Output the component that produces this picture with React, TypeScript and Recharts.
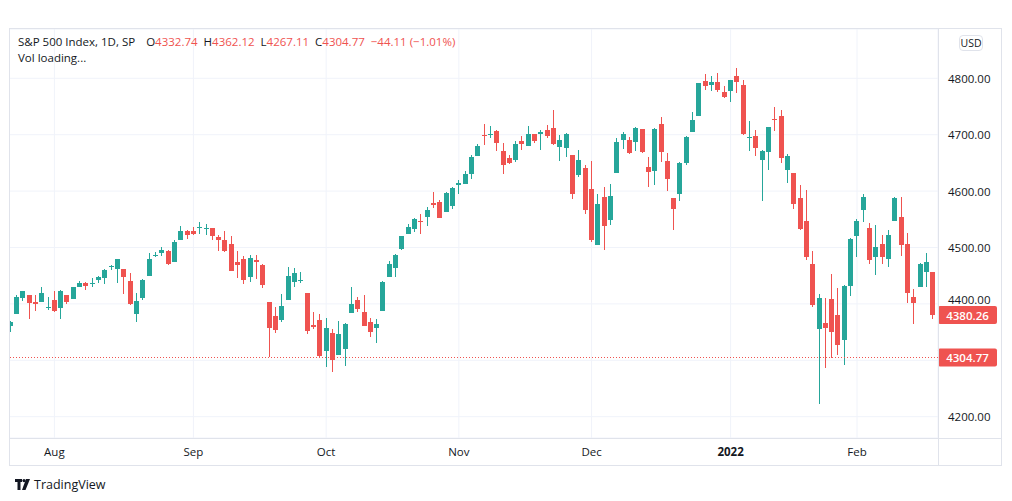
import { Bar, CartesianGrid, ComposedChart, ReferenceLine, XAxis, YAxis } from "recharts";

const UP = "#26a69a";
const DOWN = "#ef5350";
const GRID = "#f0f3fa";
const BORDER = "#e0e3eb";
const TEXT = "#131722";
const FONT = "'Open Sans', 'Noto Sans', sans-serif";

// daily bars, Jul 22 2021 .. Feb 17 2022
const dates = [
  "2021-07-22", "2021-07-23", "2021-07-26", "2021-07-27", "2021-07-28", "2021-07-29", "2021-07-30",
  "2021-08-02", "2021-08-03", "2021-08-04", "2021-08-05", "2021-08-06", "2021-08-09", "2021-08-10", "2021-08-11",
  "2021-08-12", "2021-08-13", "2021-08-16", "2021-08-17", "2021-08-18", "2021-08-19", "2021-08-20", "2021-08-23",
  "2021-08-24", "2021-08-25", "2021-08-26", "2021-08-27", "2021-08-30", "2021-08-31",
  "2021-09-01", "2021-09-02", "2021-09-03", "2021-09-07", "2021-09-08", "2021-09-09", "2021-09-10", "2021-09-13",
  "2021-09-14", "2021-09-15", "2021-09-16", "2021-09-17", "2021-09-20", "2021-09-21", "2021-09-22", "2021-09-23",
  "2021-09-24", "2021-09-27", "2021-09-28", "2021-09-29", "2021-09-30",
  "2021-10-01", "2021-10-04", "2021-10-05", "2021-10-06", "2021-10-07", "2021-10-08", "2021-10-11", "2021-10-12",
  "2021-10-13", "2021-10-14", "2021-10-15", "2021-10-18", "2021-10-19", "2021-10-20", "2021-10-21", "2021-10-22",
  "2021-10-25", "2021-10-26", "2021-10-27", "2021-10-28", "2021-10-29",
  "2021-11-01", "2021-11-02", "2021-11-03", "2021-11-04", "2021-11-05", "2021-11-08", "2021-11-09", "2021-11-10",
  "2021-11-11", "2021-11-12", "2021-11-15", "2021-11-16", "2021-11-17", "2021-11-18", "2021-11-19", "2021-11-22",
  "2021-11-23", "2021-11-24", "2021-11-26", "2021-11-29", "2021-11-30",
  "2021-12-01", "2021-12-02", "2021-12-03", "2021-12-06", "2021-12-07", "2021-12-08", "2021-12-09", "2021-12-10",
  "2021-12-13", "2021-12-14", "2021-12-15", "2021-12-16", "2021-12-17", "2021-12-20", "2021-12-21", "2021-12-22",
  "2021-12-23", "2021-12-27", "2021-12-28", "2021-12-29", "2021-12-30", "2021-12-31",
  "2022-01-03", "2022-01-04", "2022-01-05", "2022-01-06", "2022-01-07", "2022-01-10", "2022-01-11", "2022-01-12",
  "2022-01-13", "2022-01-14", "2022-01-18", "2022-01-19", "2022-01-20", "2022-01-21", "2022-01-24", "2022-01-25",
  "2022-01-26", "2022-01-27", "2022-01-28", "2022-01-31",
  "2022-02-01", "2022-02-02", "2022-02-03", "2022-02-04", "2022-02-07", "2022-02-08", "2022-02-09", "2022-02-10",
  "2022-02-11", "2022-02-14", "2022-02-15", "2022-02-16", "2022-02-17",
];

const opens = [
  4361.27, 4381.2, 4409.58, 4416.38, 4402.95, 4403.59, 4395.12,
  4406.86, 4392.74, 4415.95, 4408.86, 4429.07, 4437.77, 4435.79, 4442.18, 4446.08, 4464.84, 4461.65, 4462.12,
  4440.94, 4382.44, 4410.56, 4450.29, 4484.4, 4490.45, 4493.75, 4474.1, 4513.76, 4529.75,
  4528.8, 4534.48, 4532.42, 4535.38, 4518.09, 4513.02, 4506.92, 4474.81, 4479.33, 4447.49, 4477.09, 4469.74,
  4402.95, 4379.0, 4372.0, 4406.75, 4438.04, 4442.12, 4419.54, 4362.41, 4370.67,
  4317.16, 4348.84, 4309.87, 4319.57, 4383.73, 4406.51, 4385.44, 4368.31, 4358.01, 4386.75, 4447.69, 4463.72,
  4497.34, 4524.42, 4532.24, 4546.12, 4553.69, 4578.69, 4580.22, 4562.84, 4572.87,
  4610.62, 4613.34, 4630.65, 4662.93, 4699.26, 4701.48, 4707.25, 4670.26, 4659.39, 4655.24, 4689.3, 4679.42,
  4701.5, 4700.72, 4708.44, 4712.0, 4678.48, 4675.78, 4664.63, 4628.75, 4640.25,
  4602.82, 4504.73, 4589.49, 4548.37, 4631.97, 4690.86, 4691.0, 4687.64, 4710.3, 4642.99, 4636.46, 4719.13,
  4652.5, 4587.9, 4594.96, 4650.36, 4703.96, 4733.99, 4795.49, 4788.64, 4794.23, 4775.21,
  4778.14, 4804.51, 4787.99, 4693.39, 4697.66, 4655.34, 4669.14, 4728.59, 4733.56, 4637.99, 4632.24, 4588.03,
  4547.35, 4471.38, 4356.32, 4366.64, 4408.43, 4380.58, 4336.19, 4431.79,
  4519.57, 4566.39, 4535.41, 4482.79, 4505.75, 4480.02, 4547.0, 4553.24, 4506.27, 4412.61, 4429.28, 4455.75, 4456.06,
];

const highs = [
  4369.87, 4415.18, 4422.73, 4416.38, 4415.47, 4429.97, 4412.25,
  4422.18, 4423.79, 4416.17, 4429.76, 4440.82, 4439.39, 4445.21, 4449.44, 4461.77, 4468.37, 4480.26, 4462.12,
  4454.32, 4418.61, 4444.35, 4489.88, 4492.81, 4501.71, 4495.9, 4513.33, 4537.36, 4531.39,
  4537.11, 4545.85, 4541.45, 4535.38, 4521.79, 4529.9, 4520.47, 4492.99, 4485.68, 4486.87, 4485.87, 4471.52,
  4402.95, 4394.87, 4416.75, 4465.4, 4463.12, 4457.3, 4419.54, 4385.57, 4382.55,
  4375.19, 4355.51, 4369.23, 4365.57, 4429.97, 4412.02, 4415.88, 4374.89, 4372.87, 4439.73, 4475.82, 4488.75,
  4520.4, 4540.87, 4551.44, 4559.67, 4572.62, 4598.53, 4584.57, 4597.55, 4608.08,
  4620.34, 4635.15, 4663.46, 4683.0, 4718.5, 4714.92, 4708.53, 4684.85, 4664.55, 4688.47, 4697.42, 4714.95,
  4701.5, 4708.8, 4717.75, 4743.83, 4699.39, 4702.87, 4664.63, 4672.95, 4646.02,
  4652.94, 4595.46, 4608.03, 4612.6, 4694.04, 4705.06, 4695.26, 4713.57, 4710.3, 4660.47, 4712.6, 4731.99,
  4666.7, 4587.9, 4651.14, 4697.67, 4740.74, 4791.49, 4807.02, 4804.06, 4808.93, 4786.83,
  4796.64, 4818.62, 4797.7, 4725.01, 4707.95, 4673.02, 4714.13, 4748.83, 4744.13, 4665.13, 4632.24, 4611.55,
  4602.11, 4494.52, 4417.35, 4411.01, 4453.23, 4428.74, 4432.72, 4516.89,
  4550.49, 4595.31, 4542.88, 4539.66, 4521.86, 4531.32, 4590.03, 4588.92, 4526.33, 4426.22, 4472.77, 4489.55, 4456.06,
];

const lows = [
  4350.06, 4381.2, 4405.45, 4372.51, 4387.01, 4403.59, 4389.65,
  4384.81, 4373.0, 4400.23, 4408.86, 4429.07, 4424.74, 4430.03, 4436.42, 4435.96, 4460.82, 4437.66, 4417.83,
  4397.59, 4367.73, 4406.8, 4450.29, 4482.28, 4485.66, 4468.99, 4474.1, 4513.76, 4515.8,
  4522.02, 4524.66, 4521.94, 4513.0, 4493.95, 4492.07, 4457.66, 4445.7, 4435.46, 4438.37, 4443.8, 4427.76,
  4305.91, 4347.96, 4367.43, 4406.75, 4430.27, 4436.19, 4346.33, 4355.08, 4306.24,
  4288.52, 4278.94, 4309.87, 4290.49, 4383.73, 4386.22, 4360.59, 4342.09, 4329.92, 4386.75, 4447.69, 4447.47,
  4496.41, 4524.4, 4526.89, 4524.0, 4537.36, 4569.17, 4551.66, 4562.84, 4567.59,
  4595.06, 4613.34, 4621.19, 4662.59, 4681.32, 4694.39, 4670.87, 4630.86, 4648.31, 4650.77, 4672.86, 4679.42,
  4684.41, 4672.78, 4694.22, 4682.17, 4652.66, 4659.89, 4585.43, 4625.26, 4560.0,
  4510.27, 4504.73, 4495.12, 4540.51, 4631.97, 4674.52, 4665.98, 4670.24, 4667.6, 4606.52, 4611.22, 4651.89,
  4600.22, 4531.1, 4583.16, 4645.53, 4703.96, 4733.99, 4780.04, 4778.08, 4775.33, 4765.75,
  4758.17, 4774.27, 4699.44, 4671.26, 4662.74, 4582.24, 4638.27, 4706.71, 4650.29, 4614.75, 4568.7, 4530.2,
  4477.95, 4395.34, 4222.62, 4287.11, 4304.8, 4309.5, 4292.46, 4414.02,
  4483.53, 4544.32, 4470.39, 4451.5, 4471.47, 4465.4, 4547.0, 4484.31, 4401.41, 4364.84, 4429.28, 4429.68, 4373.81,
];

const closes = [
  4367.48, 4411.79, 4422.3, 4401.46, 4400.64, 4419.15, 4395.26,
  4387.16, 4423.15, 4402.66, 4429.1, 4436.52, 4432.35, 4436.75, 4447.7, 4460.83, 4468.0, 4479.71, 4448.08,
  4400.27, 4405.8, 4441.67, 4479.53, 4486.23, 4496.19, 4470.0, 4509.37, 4528.79, 4522.68,
  4524.09, 4536.95, 4535.43, 4520.03, 4514.07, 4493.28, 4458.58, 4468.73, 4443.05, 4480.7, 4473.75, 4432.99,
  4357.73, 4354.19, 4395.64, 4448.98, 4455.48, 4443.11, 4352.63, 4359.46, 4307.54,
  4357.04, 4300.46, 4345.72, 4363.55, 4399.76, 4391.34, 4361.19, 4350.65, 4363.8, 4438.26, 4471.37, 4486.46,
  4519.63, 4536.19, 4549.78, 4544.9, 4566.48, 4574.79, 4551.68, 4596.42, 4605.38,
  4613.67, 4630.65, 4660.57, 4680.06, 4697.53, 4701.7, 4685.25, 4646.71, 4649.27, 4682.85, 4682.8, 4700.9,
  4688.67, 4704.54, 4697.96, 4682.94, 4690.7, 4701.46, 4594.62, 4655.27, 4567.0,
  4513.04, 4577.1, 4538.43, 4591.67, 4686.75, 4701.21, 4667.45, 4712.02, 4668.97, 4634.09, 4709.85, 4668.67,
  4620.64, 4568.02, 4649.23, 4696.56, 4725.79, 4791.19, 4786.35, 4793.06, 4778.73, 4766.18,
  4796.56, 4793.54, 4700.58, 4696.05, 4677.03, 4670.29, 4713.07, 4726.35, 4659.03, 4662.85, 4577.11, 4532.76,
  4482.73, 4397.94, 4410.13, 4356.45, 4349.93, 4326.51, 4431.85, 4515.55,
  4546.54, 4589.38, 4477.44, 4500.53, 4483.87, 4521.54, 4587.18, 4504.08, 4418.64, 4401.67, 4471.07, 4475.01, 4380.26,
];

const monthTicks = ["2021-08-02", "2021-09-01", "2021-10-01", "2021-11-01", "2021-12-01", "2022-01-03", "2022-02-01"];
const monthLabels = ["Aug", "Sep", "Oct", "Nov", "Dec", "2022", "Feb"];
const priceTicks = [4200, 4300, 4400, 4500, 4600, 4700, 4800];
const hiddenPriceLabels = [4300]; // covered by the last-price tag
const priceDomain = [4162.2, 4887.4];

const LAST_PRICE = 4304.77;
const MARK_PRICE = 4380.26;

const data = dates.map((date, i) => ({
  date,
  open: opens[i],
  high: highs[i],
  low: lows[i],
  close: closes[i],
  range: [lows[i], highs[i]],
}));

function Candle(props: any) {
  const { x, y, width, height, payload } = props;
  const { open, high, low, close } = payload;
  const color = close >= open ? UP : DOWN;
  const k = high > low ? height / (high - low) : 0;
  const bodyTop = Math.round(y + (high - Math.max(open, close)) * k);
  const bodyBot = Math.round(y + (high - Math.min(open, close)) * k);
  const left = Math.round(x + width / 2 - 2.5);
  const wickTop = Math.round(y);
  const wickBot = Math.round(y + height);
  return (
    <g>
      <rect x={left + 2} y={wickTop} width={1} height={Math.max(1, wickBot - wickTop)} fill={color} />
      <rect x={left} y={bodyTop} width={5} height={Math.max(1, bodyBot - bodyTop)} fill={color} />
    </g>
  );
}

function MonthTick({ x, y, payload }: any) {
  const i = monthTicks.indexOf(payload.value);
  const label = monthLabels[i] ?? "";
  return (
    <text x={x} y={y + 18} textAnchor="middle" fill={TEXT} fontSize={11.5} fontFamily={FONT} fontWeight={label === "2022" ? 700 : 400}>
      {label}
    </text>
  );
}

function PriceTick({ x, y, payload }: any) {
  if (hiddenPriceLabels.includes(payload.value)) return <g />;
  // nudge a label that would run into the mark tag
  const nudge = Math.abs(payload.value - MARK_PRICE) < 25 ? -4 : 0;
  return (
    <text x={x + 10} y={y + nudge} dominantBaseline="central" fill={TEXT} fontSize={11.5} fontFamily={FONT}>
      {payload.value.toFixed(2)}
    </text>
  );
}

function priceTag(text: string) {
  return (p: any) => {
    const { x, y, width } = p.viewBox;
    const left = x + width;
    return (
      <g>
        <rect x={left} y={y - 9} width={59} height={18} rx={2} fill={DOWN} />
        <text x={left + 29.5} y={y} textAnchor="middle" dominantBaseline="central" fill="#fff" fontSize={11.5} fontWeight={600} fontFamily={FONT}>
          {text}
        </text>
      </g>
    );
  };
}

export default function App() {
  return (
    <div style={{ position: "relative", width: 1012, height: 501, fontFamily: FONT, color: TEXT }}>
      <div
        style={{
          position: "absolute",
          left: 1,
          top: 20,
          width: 993,
          height: 438,
          border: `1px solid ${BORDER}`,
          boxSizing: "border-box",
          overflow: "hidden",
          background: "#fff",
        }}
      >
        <div style={{ position: "absolute", left: -3, top: 0 }}>
          <ComposedChart width={994} height={436} data={data} margin={{ top: 0, right: 0, bottom: 0, left: 0 }} barCategoryGap={0.6}>
            <CartesianGrid stroke={GRID} />
            <XAxis
              dataKey="date"
              ticks={monthTicks}
              interval={0}
              height={27}
              tickSize={0}
              tickMargin={0}
              axisLine={false}
              tick={<MonthTick />}
              padding={{ left: 0, right: 2 }}
            />
            <YAxis
              orientation="right"
              width={63}
              type="number"
              domain={priceDomain}
              allowDataOverflow
              ticks={priceTicks}
              tickSize={0}
              tickMargin={0}
              axisLine={false}
              tick={<PriceTick />}
            />
            <Bar dataKey="range" shape={<Candle />} isAnimationActive={false} />
            <ReferenceLine
              y={LAST_PRICE}
              stroke={DOWN}
              strokeDasharray="1 2"
              shapeRendering="crispEdges"
              label={priceTag("4304.77")}
            />
            <ReferenceLine y={MARK_PRICE} stroke="none" label={priceTag("4380.26")} />
          </ComposedChart>
        </div>
        <div style={{ position: "absolute", left: 0, right: 0, top: 409, height: 1, background: BORDER }} />
        <div style={{ position: "absolute", left: 928, top: 0, bottom: 0, width: 1, background: BORDER }} />
        <div style={{ position: "absolute", left: 8, top: 5, fontSize: 11.5, lineHeight: "16px", whiteSpace: "nowrap" }}>
          <span>S&amp;P 500 Index, 1D, SP</span>
          <span style={{ marginLeft: 11 }}>O</span>
          <span style={{ color: DOWN }}>4332.74</span>
          <span style={{ marginLeft: 6 }}>H</span>
          <span style={{ color: DOWN }}>4362.12</span>
          <span style={{ marginLeft: 6 }}>L</span>
          <span style={{ color: DOWN }}>4267.11</span>
          <span style={{ marginLeft: 6 }}>C</span>
          <span style={{ color: DOWN }}>4304.77</span>
          <span style={{ color: DOWN, marginLeft: 6 }}>−44.11 (−1.01%)</span>
        </div>
        <div style={{ position: "absolute", left: 8, top: 21, fontSize: 11.5, lineHeight: "16px" }}>Vol loading...</div>
        <div
          style={{
            position: "absolute",
            left: 949,
            top: 6,
            width: 24,
            height: 16,
            border: `1px solid ${BORDER}`,
            borderRadius: 4,
            boxSizing: "border-box",
            fontSize: 10.5,
            lineHeight: "14px",
            textAlign: "center",
            background: "#fff",
          }}
        >
          USD
        </div>
      </div>
      <div style={{ position: "absolute", left: 7, top: 468, display: "flex", alignItems: "center", gap: 4 }}>
        <svg width={15} height={11} viewBox="0 0 15 11">
          <rect x={0} y={0} width={7} height={3} fill={TEXT} />
          <rect x={2.5} y={0} width={3} height={11} fill={TEXT} />
          <circle cx={9} cy={1.6} r={1.6} fill={TEXT} />
          <polygon points="11,0 15,0 10.5,11 7,11" fill={TEXT} />
        </svg>
        <span style={{ fontSize: 12.5 }}>TradingView</span>
      </div>
    </div>
  );
}
